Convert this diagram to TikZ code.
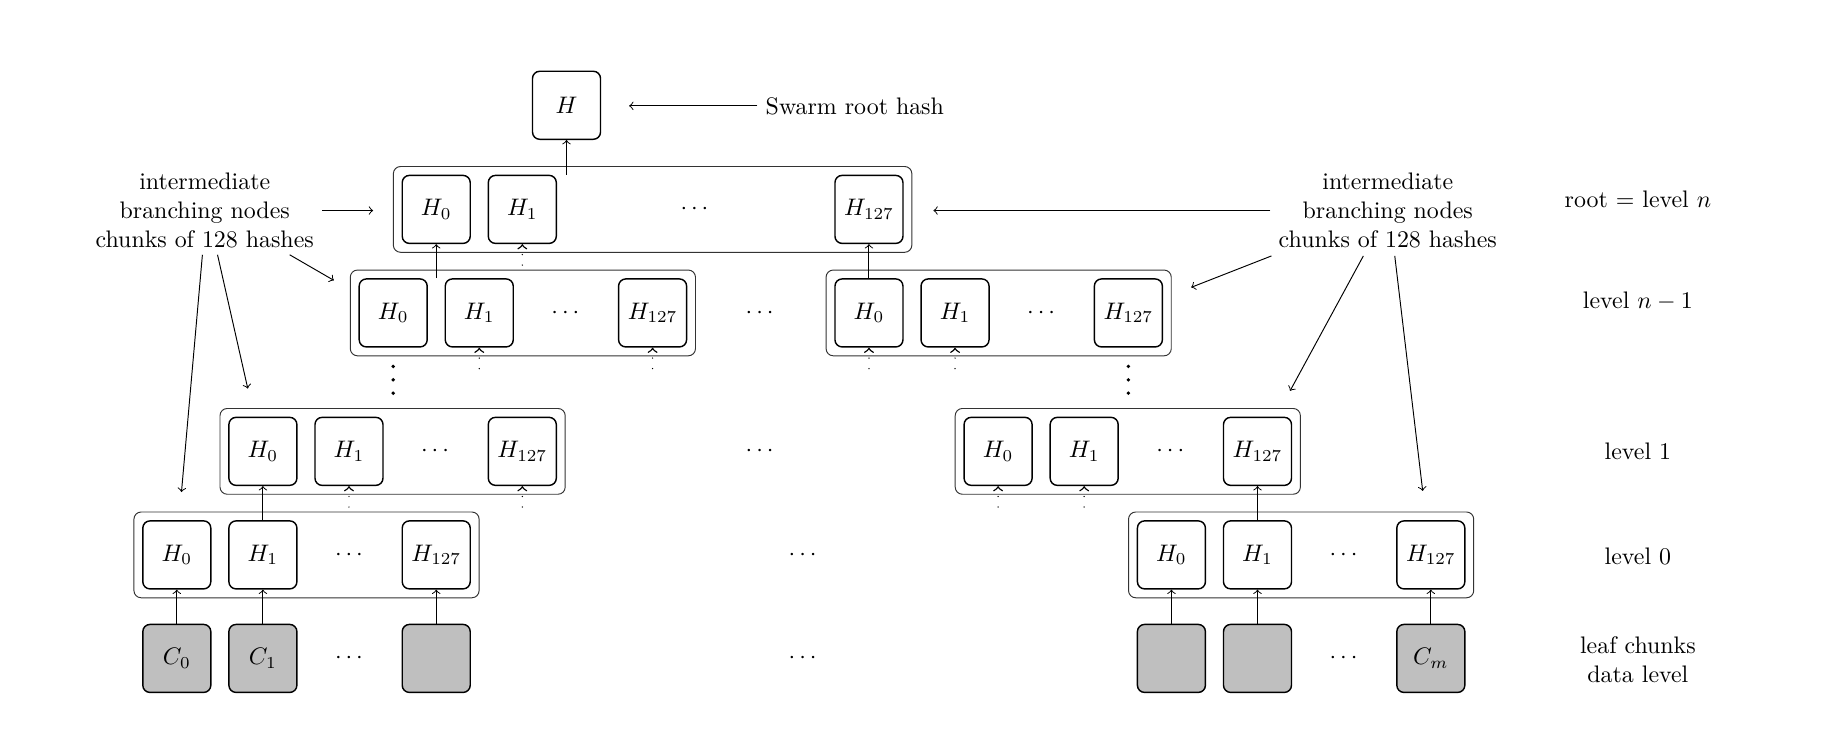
\documentclass[tikz,border=0pt]{standalone}
\usetikzlibrary{fit,calc}
\begin{document}
\begin{tikzpicture}[x=0.017107cm,y=-0.017107cm,
  hbox/.style={draw,semithick,rounded corners=3pt,minimum width=1cm,minimum height=1cm,inner sep=0pt},
  leafbox/.style={hbox,fill=lightgray},
  grp/.style={draw=black!80,thin,rounded corners=3pt,inner sep=0.12cm},
  up/.style={->,thin},
  dotup/.style={->,semithick,line cap=round,dash pattern=on 0pt off 4.4pt},
  lbl/.style={align=center},
  vdot/.style={circle,fill,inner sep=0pt,minimum size=1.6pt}]
\useasboundingbox (0,0) rectangle (1568,633);

% root hash
\node[hbox] (H) at (487,90.5) {$H$};
\node[anchor=west] (swarm) at (651,91) {Swarm root hash};
\draw[up,shorten >=0.41cm] (swarm.west) -- (swarm.west -| H.east);

% root level
\node[hbox] (r0) at (375,180) {$H_0$};
\node[hbox] (r1) at (449,180) {$H_1$};
\node (rd) at (597,180) {$\cdots$};
\node[hbox] (r127) at (747,180) {$H_{127}$};
\node[grp,fit=(r0)(r127)] (rbox) {};

% level n-1
\node[hbox] (a0) at (338,269) {$H_0$};
\node[hbox] (a1) at (412,269) {$H_1$};
\node (ad) at (486,269) {$\cdots$};
\node[hbox] (a127) at (561,269) {$H_{127}$};
\node[grp,fit=(a0)(a127)] (abox) {};
\node (m1) at (653,269) {$\cdots$};
\node[hbox] (b0) at (747,269) {$H_0$};
\node[hbox] (b1) at (821,269) {$H_1$};
\node (bd) at (895,269) {$\cdots$};
\node[hbox] (b127) at (970,269) {$H_{127}$};
\node[grp,fit=(b0)(b127)] (bbox) {};

% vertical ellipses between level n-1 and level 1
\foreach \xx in {338,970}
  \foreach \yy in {315,326.5,338}
    \node[vdot] at (\xx,\yy) {};

% level 1
\node[hbox] (c0) at (226,388) {$H_0$};
\node[hbox] (c1) at (300,388) {$H_1$};
\node (cd) at (374,388) {$\cdots$};
\node[hbox] (c127) at (449,388) {$H_{127}$};
\node[grp,fit=(c0)(c127)] (cbox) {};
\node (m2) at (653,388) {$\cdots$};
\node[hbox] (d0) at (858,388) {$H_0$};
\node[hbox] (d1) at (932,388) {$H_1$};
\node (dd) at (1006,388) {$\cdots$};
\node[hbox] (d127) at (1081,388) {$H_{127}$};
\node[grp,fit=(d0)(d127)] (dbox) {};

% level 0
\node[hbox] (e0) at (152,477) {$H_0$};
\node[hbox] (e1) at (226,477) {$H_1$};
\node (ed) at (300,477) {$\cdots$};
\node[hbox] (e127) at (375,477) {$H_{127}$};
\node[grp,fit=(e0)(e127)] (ebox) {};
\node (m3) at (690,477) {$\cdots$};
\node[hbox] (f0) at (1007,477) {$H_0$};
\node[hbox] (f1) at (1081,477) {$H_1$};
\node (fd) at (1155,477) {$\cdots$};
\node[hbox] (f127) at (1230,477) {$H_{127}$};
\node[grp,fit=(f0)(f127)] (fbox) {};

% data chunks
\node[leafbox] (l0) at (152,566) {$C_0$};
\node[leafbox] (l1) at (226,566) {$C_1$};
\node (ld) at (300,566) {$\cdots$};
\node[leafbox] (l2) at (375,566) {};
\node (m4) at (690,566) {$\cdots$};
\node[leafbox] (k0) at (1007,566) {};
\node[leafbox] (k1) at (1081,566) {};
\node (kd) at (1155,566) {$\cdots$};
\node[leafbox] (km) at (1230,566) {$C_m$};

% hashing edges
\draw[up] (H |- r1.north) -- (H.south);
\draw[up] (r0 |- a0.north) -- (r0.south);
\draw[up] (r127 |- b0.north) -- (r127.south);
\draw[up] (c0 |- e1.north) -- (c0.south);
\draw[up] (d127 |- f1.north) -- (d127.south);
\foreach \s/\t in {l0/e0,l1/e1,l2/e127,k0/f0,k1/f1,km/f127}
  \draw[up] (\s) -- (\t);
\foreach \t in {r1,a1,a127,b0,b1,c1,c127,d0,d1}
  \draw[dotup] ($(\t.south)+(0,18)$) -- (\t.south);

% level names
\node (ln) at (1408,171) {root $=$ level $n$};
\node (ln1) at (1408,259) {level $n-1$};
\node (lone) at (1408,388) {level 1};
\node (lzero) at (1408,478) {level 0};
\node[lbl] (lleaf) at (1408,567) {leaf chunks\\data level};

% annotations
\node[lbl] (llab) at (176,181) {intermediate\\branching nodes\\chunks of 128 hashes};
\node[lbl] (rlab) at (1193,181) {intermediate\\branching nodes\\chunks of 128 hashes};
\draw[up,shorten >=0.29cm] (llab.east) -- (llab.east -| rbox.west);
\draw[up,shorten >=0.31cm] (rlab.west) -- (rlab.west -| rbox.east);

\coordinate (ls2) at (249,219); \coordinate (lt2) at (287,241);
\coordinate (ls3) at (187,219); \coordinate (lt3) at (213,334);
\coordinate (ls4) at (174,219); \coordinate (lt4) at (156,423);
\coordinate (rs2) at (1093,220); \coordinate (rt2) at (1024,247);
\coordinate (rs3) at (1172,220); \coordinate (rt3) at (1109,336);
\coordinate (rs4) at (1199,220); \coordinate (rt4) at (1223,422);
\foreach \n in {l,r}
  \foreach \k in {2,3,4}
    \draw[up] (\n s\k) -- (\n t\k);
\end{tikzpicture}
\end{document}
